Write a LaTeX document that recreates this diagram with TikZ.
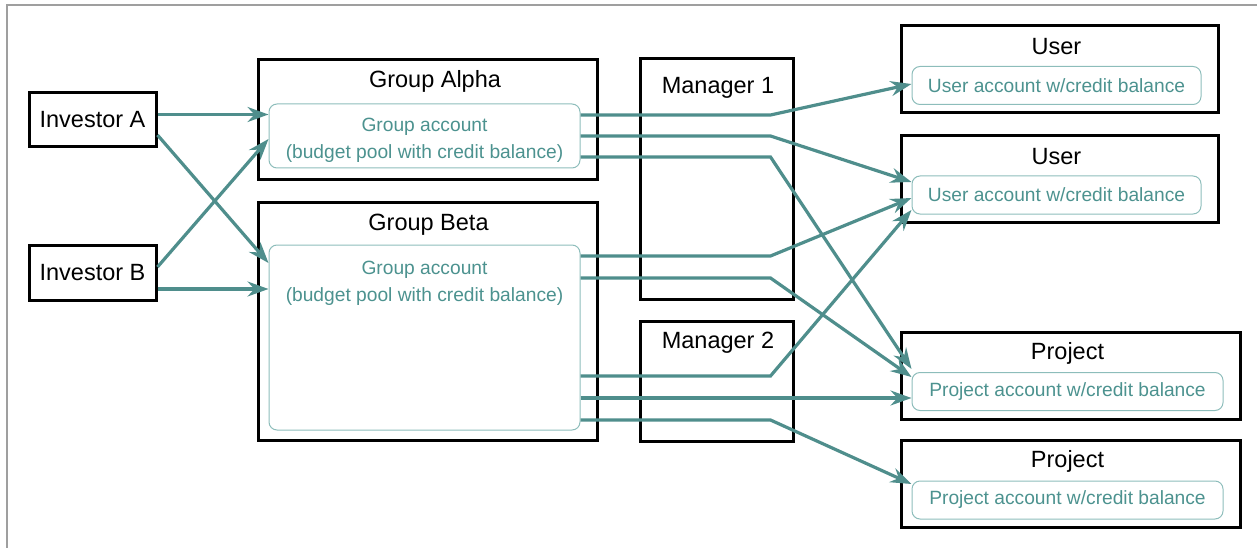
\documentclass[tikz,border=0pt]{standalone}
\usepackage{fontspec}
\setmainfont{Liberation Sans}
\usetikzlibrary{arrows.meta,calc}

\definecolor{flowteal}{HTML}{4F8E8C}
\definecolor{accline}{HTML}{8DBDBB}
\definecolor{acctext}{HTML}{4C928F}

\begin{document}
\begin{tikzpicture}[x=1pt,y=-1pt,>={Stealth[length=21pt,width=15pt,inset=7pt]},
        box/.style={draw,line width=3pt,inner sep=0pt,font=\fontsize{23.5}{28}\selectfont},
        title/.style={font=\fontsize{23.5}{28}\selectfont},
        account/.style={draw=accline,line width=1pt,rounded corners=8pt,inner sep=0pt,
            text=acctext,font=\fontsize{19.2}{27}\selectfont,align=center},
        accounttext/.style={text=acctext,font=\fontsize{19.2}{27}\selectfont,align=center},
        flow/.style={->,draw=flowteal,line width=3.2pt}]
        \useasboundingbox (0,0) rectangle (1257,548);

        % frame of the screenshot
        \draw[gray!75,line width=1.5pt] (7,548) -- (7,5) -- (1257,5);

        % the investors
        \node[box,minimum width=127pt,minimum height=54pt] (invA) at (92.5,120) {Investor A};
        \node[box,minimum width=127pt,minimum height=55pt] (invB) at (92.5,272.5) {Investor B};

        % the groups with their accounts
        \node[box,minimum width=339pt,minimum height=120pt] (alpha) at (427.5,120) {};
        \node[title] (alphaTitle) at (435,81) {Group Alpha};
        \node[account,minimum width=311pt,minimum height=64pt] (alphaIn) at (424.5,136) {};
        \node[accounttext] (alphaText) at (424.5,140) {Group account\\(budget pool with credit balance)};

        \node[box,minimum width=339pt,minimum height=238pt] (beta) at (427.5,321) {};
        \node[title] (betaTitle) at (428.5,224.5) {Group Beta};
        \node[account,minimum width=311pt,minimum height=185pt] (betaIn) at (424.5,337.5) {};
        \node[accounttext] (betaText) at (424.5,283) {Group account\\(budget pool with credit balance)};

        % the managers
        \node[box,minimum width=153pt,minimum height=240pt] (m1) at (716.5,179) {};
        \node[title] (m1Title) at (718,88) {Manager 1};
        \node[box,minimum width=153pt,minimum height=120pt] (m2) at (716.5,381) {};
        \node[title] (m2Title) at (718,343) {Manager 2};

        % users and projects
        \foreach \n/\cx/\cy/\w/\iw/\name in {
            u1/1059.5/69.5/317/289/User,
            u2/1059.5/179/317/289/User,
            p1/1070.5/375.5/339/311/Project,
            p2/1070.5/484/339/311/Project} {
                \node[box,minimum width=\w pt,minimum height=87pt] (\n) at (\cx,\cy) {};
                \node[title] (\n Title) at ($(\n.north)+(-3,22.5)$) {\name};
                \node[account,minimum width=\iw pt,minimum height=38pt] (\n In)
                    at ($(\n)+(-3,16)$) {\name\ account w/credit balance};
        }

        % investors to the group accounts
        \draw[flow] ([yshift=5.5pt]invA.east) -- ([yshift=21.5pt]alphaIn.west);
        \draw[flow] ([yshift=-15pt]invA.east) -- ([yshift=74.5pt]betaIn.west);
        \draw[flow] ([yshift=5.5pt]invB.east) -- ([yshift=-3pt]alphaIn.west);
        \draw[flow] ([yshift=-16.5pt]invB.east) -- ([yshift=48.5pt]betaIn.west);

        % group accounts to the user and project accounts
        \draw[flow] ([yshift=21pt]alphaIn.east) -- ++(190,0) -- ([yshift=1.5pt]u1In.west);
        \draw[flow] (alphaIn.east) -- ++(190,0) -- ([yshift=13pt]u2In.west);
        \draw[flow] ([yshift=-21pt]alphaIn.east) -- ++(190,0) -- ([yshift=22.5pt]p1In.west);
        \draw[flow] ([yshift=81.5pt]betaIn.east) -- ++(190,0) -- ([yshift=-3pt]u2In.west);
        \draw[flow] ([yshift=59.5pt]betaIn.east) -- ++(190,0) -- ([yshift=14.5pt]p1In.west);
        \draw[flow] ([yshift=-38.5pt]betaIn.east) -- ++(190,0) -- ([yshift=-15pt]u2In.west);
        \draw[flow] ([yshift=-6.5pt]p1In.west -| betaIn.east) -- ([yshift=-6.5pt]p1In.west);
        \draw[flow] ([yshift=-82.5pt]betaIn.east) -- ++(190,0) -- ([yshift=16pt]p2In.west);
\end{tikzpicture}
\end{document}
